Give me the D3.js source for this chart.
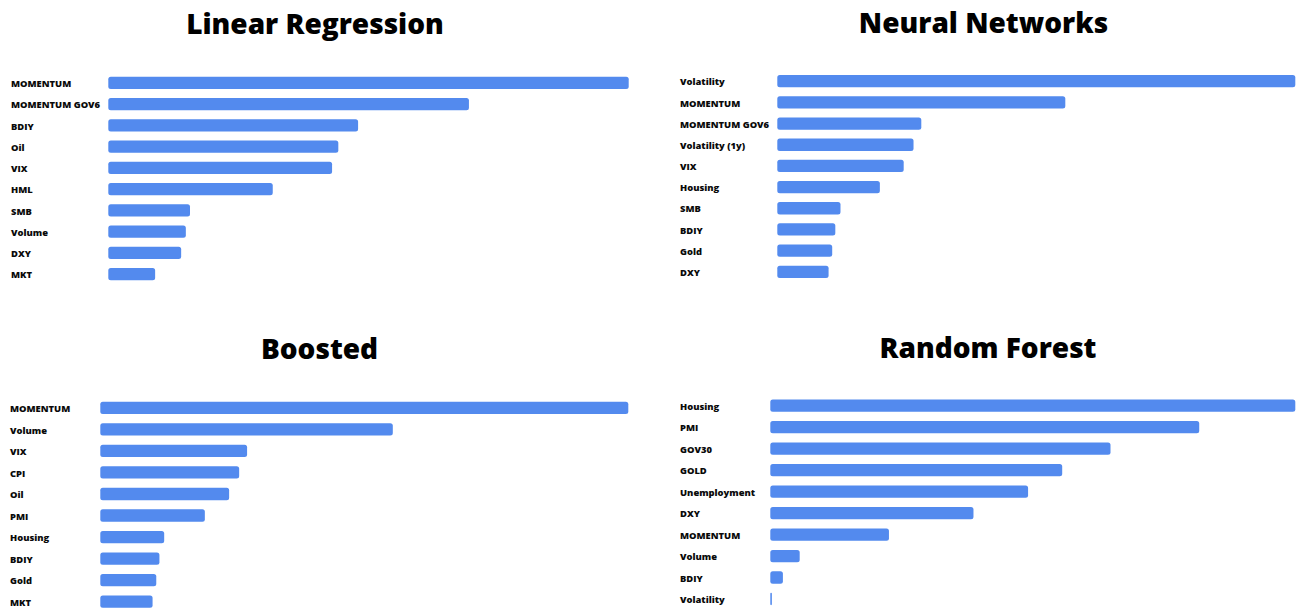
<!DOCTYPE html>
<html>
<head>
<meta charset="utf-8">
<script src="https://cdn.jsdelivr.net/npm/d3@7"></script>
<style>
  html, body { margin: 0; padding: 0; background: #ffffff; }
  svg { display: block; }
  .title { font-family: "Open Sans", sans-serif; font-weight: 800; fill: #000; }
  .label { font-family: "Open Sans", sans-serif; font-weight: 800; fill: #0a0a0a; }
</style>
</head>
<body>
<svg id="chart" width="1296" height="608"></svg>
<script>
// Feature importance by model (relative, largest = 100)
const linearFeatures = ["MOMENTUM", "MOMENTUM GOV6", "BDIY", "Oil", "VIX", "HML", "SMB", "Volume", "DXY", "MKT"];
const linearValues   = [100, 69.3, 48.0, 44.2, 43.0, 31.6, 15.7, 14.9, 14.0, 9.0];

const neuralFeatures = ["Volatility", "MOMENTUM", "MOMENTUM GOV6", "Volatility (1y)", "VIX", "Housing", "SMB", "BDIY", "Gold", "DXY"];
const neuralValues   = [100, 55.6, 27.8, 26.3, 24.4, 19.8, 12.2, 11.2, 10.6, 9.9];

const boostedFeatures = ["MOMENTUM", "Volume", "VIX", "CPI", "Oil", "PMI", "Housing", "BDIY", "Gold", "MKT"];
const boostedValues   = [100, 55.4, 27.8, 26.3, 24.4, 19.8, 12.1, 11.2, 10.6, 9.9];

const forestFeatures = ["Housing", "PMI", "GOV30", "GOLD", "Unemployment", "DXY", "MOMENTUM", "Volume", "BDIY", "Volatility"];
const forestValues   = [100, 81.7, 64.8, 55.6, 49.1, 38.7, 22.6, 5.6, 2.4, 0.3];

const panels = [
  { title: "Linear Regression", features: linearFeatures, values: linearValues,
    titleX: 315, titleY: 34, labelX: 11, x0: 108.3, x1: 628.7, y0: 82.8, y1: 274.2 },
  { title: "Neural Networks", features: neuralFeatures, values: neuralValues,
    titleX: 983.5, titleY: 33, labelX: 680, x0: 777.3, x1: 1295.3, y0: 81.2, y1: 271.8 },
  { title: "Boosted", features: boostedFeatures, values: boostedValues,
    titleX: 319.5, titleY: 359, labelX: 10, x0: 100.3, x1: 628.3, y0: 407.8, y1: 601.7 },
  { title: "Random Forest", features: forestFeatures, values: forestValues,
    titleX: 988, titleY: 358, labelX: 680, x0: 770.3, x1: 1295.3, y0: 405.7, y1: 599 }
];

const svg = d3.select("#chart");
const barColor = "#538aee";
const barHeight = 12.3;

panels.forEach(p => {
  const g = svg.append("g");

  const x = d3.scaleLinear()
    .domain([0, d3.max(p.values)])
    .range([p.x0, p.x1]);

  const y = d3.scalePoint()
    .domain(p.features)
    .range([p.y0, p.y1]);

  g.append("text")
    .attr("class", "title")
    .attr("x", p.titleX)
    .attr("y", p.titleY)
    .attr("text-anchor", "middle")
    .style("font-size", "28px")
    .text(p.title);

  const rows = p.features.map((f, i) => ({ name: f, value: p.values[i] }));

  g.selectAll("rect.bar")
    .data(rows)
    .join("rect")
    .attr("class", "bar")
    .attr("x", x(0))
    .attr("y", d => y(d.name) - barHeight / 2)
    .attr("width", d => Math.max(0, x(d.value) - x(0)))
    .attr("height", barHeight)
    .attr("rx", d => Math.min(2.5, (x(d.value) - x(0)) / 2))
    .attr("fill", barColor);

  g.selectAll("text.label")
    .data(rows)
    .join("text")
    .attr("class", "label")
    .attr("x", p.labelX)
    .attr("y", d => y(d.name) + 0.8)
    .attr("dy", "0.36em")
    .style("font-size", "9.4px")
    .text(d => d.name);
});
</script>
</body>
</html>
